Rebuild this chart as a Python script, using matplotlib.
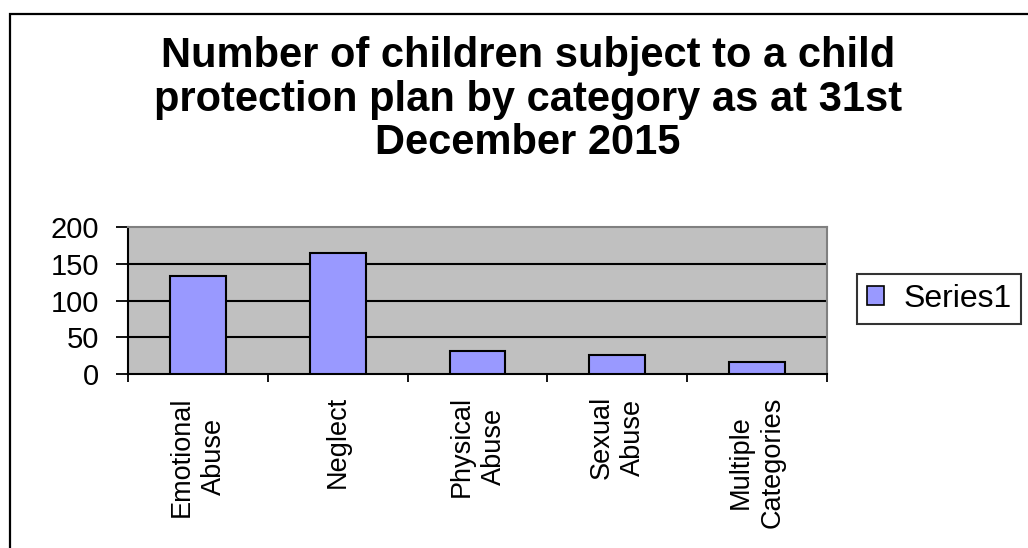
import matplotlib
matplotlib.use("Agg")
import matplotlib.pyplot as plt
from matplotlib.patches import Patch, Rectangle
import numpy as np

plt.rcParams['font.family'] = ['Liberation Sans', 'DejaVu Sans']

# chart data
categories = ["Emotional\nAbuse", "Neglect", "Physical\nAbuse", "Sexual\nAbuse", "Multiple\nCategories"]
values = [133, 165, 31, 26, 17]
y_ticks = [0, 50, 100, 150, 200]
title = "Number of children subject to a child\nprotection plan by category as at 31st\nDecember 2015"
series_name = "Series1"

W, H = 1028, 548
fig = plt.figure(figsize=(W / 100, H / 100), dpi=100)
fig.patch.set_facecolor('white')

# outer chart border (runs off the right and bottom edges)
fig.add_artist(Rectangle((10 / W, -0.1), 1.2, 1 - 14 / H + 0.1, transform=fig.transFigure,
                         fill=False, edgecolor='black', linewidth=1.6, clip_on=False))

ax = fig.add_axes([128 / W, 1 - 374 / H, (827 - 128) / W, (374 - 227) / H])
ax.set_facecolor('#C0C0C0')

x = np.arange(len(categories))
ax.bar(x, values, width=0.4, color='#9999FF', edgecolor='black', linewidth=1.5, zorder=3)

ax.set_xlim(-0.5, len(categories) - 0.5)
ax.set_ylim(0, 200)

# horizontal gridlines
for v in y_ticks[1:-1]:
    ax.axhline(v, color='black', linewidth=1.5, zorder=1)

ax.set_yticks(y_ticks)
ax.set_yticklabels([str(v) for v in y_ticks], fontsize=21)
ax.tick_params(axis='y', direction='out', length=9, width=1.3, pad=12)

ax.set_xticks(x)
ax.set_xticklabels(categories, rotation=90, fontsize=19.5, va='top', ha='center',
                   multialignment='center', linespacing=1.3)
ax.tick_params(axis='x', which='major', length=0, pad=16)
ax.set_xticks(np.arange(len(categories) + 1) - 0.5, minor=True)
ax.tick_params(axis='x', which='minor', direction='out', length=6, width=1.3)

for side in ['left', 'bottom']:
    ax.spines[side].set_color('black')
    ax.spines[side].set_linewidth(1.5)
for side in ['top', 'right']:
    ax.spines[side].set_color('#808080')
    ax.spines[side].set_linewidth(1.5)

fig.text(528 / W, 1 - 36 / H, title, ha='center', va='top', fontsize=30,
         fontweight='bold', linespacing=1.12)

leg = fig.legend(handles=[Patch(facecolor='#9999FF', edgecolor='black', linewidth=1.2, label=series_name)],
                 loc='center left', bbox_to_anchor=(857 / W, 1 - 299 / H), fontsize=23,
                 frameon=True, fancybox=False, handlelength=0.55, handleheight=0.55,
                 handletextpad=0.6, borderpad=0.3, borderaxespad=0)
leg.get_frame().set_edgecolor('black')
leg.get_frame().set_linewidth(1.5)

fig.savefig('out.png', dpi=100)
